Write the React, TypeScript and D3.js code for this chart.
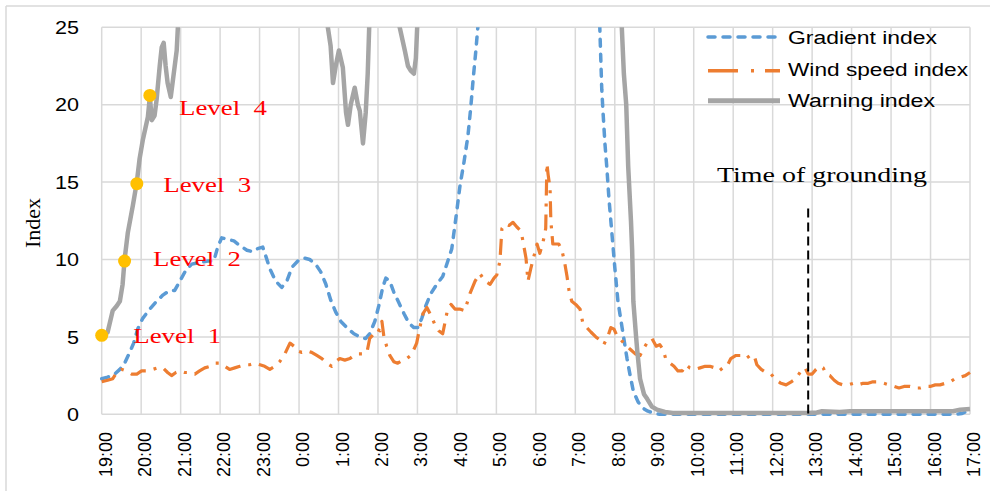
import React from "react";
import * as d3 from "d3";

// time axis: hours after 19:00
const hourLabels = ["19:00","20:00","21:00","22:00","23:00","0:00","1:00","2:00","3:00","4:00","5:00","6:00","7:00","8:00","9:00","10:00","11:00","12:00","13:00","14:00","15:00","16:00","17:00"];
const yTicks = [0, 5, 10, 15, 20, 25];

// Gradient index [hours after 19:00, value]
const gradientIndex: [number, number][] = [
  [0,2.3],[0.15,2.4],[0.33,2.6],[0.46,2.9],[0.58,3.3],[0.71,4.0],[0.81,4.6],[0.91,5.5],[1.04,6.2],[1.22,6.8],
  [1.39,7.3],[1.55,7.7],[1.72,8.0],[1.85,8.0],[1.98,8.6],[2.13,9.3],[2.28,9.7],[2.48,9.8],[2.69,9.9],[2.84,9.9],
  [2.94,10.8],[3.04,11.4],[3.19,11.3],[3.35,11.2],[3.5,10.9],[3.68,10.6],[3.83,10.5],[3.95,10.7],[4.08,10.8],[4.16,10.2],
  [4.26,9.4],[4.41,8.6],[4.56,8.2],[4.69,8.6],[4.82,9.5],[4.97,9.9],[5.12,10.1],[5.27,10.0],[5.42,9.7],[5.55,9.2],
  [5.68,8.4],[5.8,7.4],[5.93,6.6],[6.06,6.0],[6.21,5.6],[6.39,5.2],[6.54,5.0],[6.69,4.9],[6.79,5.2],[6.92,6.0],
  [7.02,7.0],[7.12,8.2],[7.2,8.8],[7.3,8.6],[7.4,7.9],[7.53,7.2],[7.66,6.5],[7.78,5.9],[7.91,5.6],[8.01,5.6],
  [8.11,6.2],[8.21,7.0],[8.34,7.8],[8.49,8.4],[8.64,8.9],[8.77,9.9],[8.87,10.7],[8.97,12.6],[9.08,14.8],[9.18,16.3],
  [9.28,18.0],[9.35,19.8],[9.41,21.6],[9.48,23.5],[9.53,25.0],[9.63,30],[9.84,45],[12.42,45],[12.57,30],[12.62,25],
  [12.67,21],[12.7,19.6],[12.75,17.5],[12.8,15.9],[12.85,14],[12.9,12.5],[12.95,11],[13.0,9.5],[13.08,7.3],[13.16,6.0],
  [13.21,5.2],[13.31,3.6],[13.39,2.5],[13.47,1.5],[13.59,0.8],[13.71,0.4],[13.84,0.2],[14.02,0.05],[14.14,0],[16,0],
  [18,0],[20,0],[21.62,0],[21.8,0.05],[22,0.3]
];

// Wind speed index
const windSpeedIndex: [number, number][] = [
  [0,2.1],[0.15,2.2],[0.28,2.3],[0.41,2.8],[0.51,2.9],[0.63,2.8],[0.76,2.6],[0.89,2.6],[1.01,2.8],[1.14,2.8],
  [1.29,2.9],[1.42,3.0],[1.55,3.0],[1.67,2.7],[1.77,2.5],[1.88,2.7],[1.98,2.8],[2.1,2.7],[2.23,2.7],[2.36,2.6],
  [2.48,2.8],[2.61,3.0],[2.74,3.1],[2.86,3.3],[2.99,3.3],[3.12,3.1],[3.24,2.9],[3.37,3.0],[3.5,3.1],[3.62,3.2],
  [3.75,3.2],[3.88,3.3],[4.01,3.2],[4.13,3.1],[4.26,2.9],[4.39,3.1],[4.51,3.4],[4.64,3.9],[4.77,4.6],[4.87,4.4],
  [4.94,4.1],[5.07,4.0],[5.2,4.1],[5.32,4.0],[5.45,3.8],[5.58,3.6],[5.7,3.3],[5.83,3.1],[5.93,3.4],[6.03,3.6],
  [6.16,3.5],[6.29,3.6],[6.39,3.8],[6.49,3.9],[6.62,3.9],[6.72,4.0],[6.79,4.9],[6.9,5.2],[6.97,5.5],[7.05,5.4],
  [7.1,6.0],[7.15,5.0],[7.22,4.4],[7.3,3.8],[7.4,3.4],[7.5,3.3],[7.63,3.5],[7.73,3.6],[7.83,3.8],[7.91,4.2],
  [7.98,4.6],[8.06,5.6],[8.14,6.5],[8.24,6.9],[8.34,6.4],[8.44,5.8],[8.54,5.4],[8.64,5.2],[8.75,6.6],[8.85,7.1],
  [8.95,6.8],[9.07,6.8],[9.2,6.7],[9.33,7.8],[9.46,8.6],[9.58,9.1],[9.71,8.6],[9.84,8.4],[9.94,8.8],[10.01,9.0],
  [10.09,9.9],[10.14,12.0],[10.22,12.3],[10.32,12.2],[10.42,12.4],[10.52,12.1],[10.6,11.9],[10.65,11.5],[10.7,10.8],[10.75,10.1],
  [10.8,8.6],[10.87,9.4],[10.95,10.2],[11.03,11.0],[11.1,10.4],[11.18,11.1],[11.25,12.0],[11.28,16.2],[11.31,15.5],[11.36,14.6],
  [11.38,12.5],[11.43,11.0],[11.51,11.0],[11.58,11.0],[11.66,10.6],[11.73,9.8],[11.79,8.9],[11.84,8.0],[11.91,7.3],[12.01,7.1],
  [12.12,6.8],[12.19,5.9],[12.29,5.6],[12.4,5.3],[12.52,5.0],[12.62,4.8],[12.72,4.5],[12.82,5.0],[12.9,5.6],[12.98,5.5],
  [13.05,5.1],[13.16,4.8],[13.26,4.5],[13.39,4.2],[13.52,3.9],[13.64,3.8],[13.74,4.3],[13.84,4.7],[13.94,4.9],[14.05,4.4],
  [14.14,4.5],[14.22,4.2],[14.29,3.6],[14.4,3.3],[14.5,3.1],[14.6,2.8],[14.71,2.8],[14.81,3.2],[14.9,3.0],[15.03,2.9],
  [15.16,3.0],[15.29,3.1],[15.41,3.1],[15.54,3.0],[15.64,2.8],[15.74,3.0],[15.84,3.1],[15.94,3.6],[16.07,3.8],[16.2,3.8],
  [16.32,3.6],[16.43,3.8],[16.53,3.8],[16.6,3.2],[16.71,2.9],[16.83,2.7],[16.96,2.6],[17.09,2.2],[17.21,2.0],[17.34,1.9],
  [17.47,2.1],[17.59,2.3],[17.72,2.8],[17.82,3.0],[17.9,2.6],[18.0,2.6],[18.1,2.9],[18.19,3.1],[18.28,3.0],[18.35,2.6],
  [18.45,2.5],[18.56,2.2],[18.66,2.0],[18.78,1.9],[18.91,1.9],[19.04,2.0],[19.16,1.9],[19.29,2.0],[19.42,2.0],[19.54,2.1],
  [19.67,2.1],[19.82,2.0],[19.95,1.9],[20.08,1.8],[20.2,1.7],[20.33,1.8],[20.48,1.8],[20.61,1.7],[20.74,1.7],[20.86,1.8],
  [20.99,1.8],[21.12,1.9],[21.24,1.9],[21.37,2.0],[21.5,2.1],[21.62,2.3],[21.75,2.4],[21.88,2.5],[22.0,2.7]
];

// Warning index
const warningIndex: [number, number][] = [
  [0,5.0],[0.15,5.3],[0.28,6.7],[0.38,7.0],[0.46,7.3],[0.53,8.4],[0.58,10.0],[0.66,11.7],[0.79,13.5],[0.89,15.0],
  [0.96,16.5],[1.04,17.7],[1.17,19.2],[1.22,20.5],[1.27,19.0],[1.34,19.3],[1.39,20.3],[1.47,22.5],[1.52,23.7],[1.57,24.0],
  [1.62,22.5],[1.67,21.4],[1.75,20.5],[1.8,21.5],[1.9,23.5],[1.95,26],[2.05,40],[5.58,40],[5.7,25.5],[5.8,23.8],
  [5.86,21.4],[5.93,22.5],[6.01,23.5],[6.11,22.4],[6.19,19.5],[6.24,18.7],[6.31,20.0],[6.41,21.1],[6.49,20.0],[6.54,19.6],
  [6.62,17.5],[6.69,19.5],[6.74,22],[6.79,26],[6.87,40],[7.4,40],[7.48,26],[7.55,25],[7.68,23.5],[7.76,22.5],
  [7.83,22.2],[7.91,22.0],[7.96,23],[8.01,26],[8.09,40],[13.03,40],[13.16,26],[13.23,22],[13.29,20],[13.34,16],
  [13.41,12.5],[13.44,10.6],[13.47,7.3],[13.54,5],[13.57,4.1],[13.64,2.3],[13.74,1.3],[13.82,1.0],[13.94,0.5],[14.07,0.3],
  [14.27,0.15],[14.47,0.08],[16,0.08],[17.9,0.08],[18.12,0.12],[18.25,0.2],[18.7,0.15],[18.96,0.2],[20,0.2],[21.57,0.2],
  [21.75,0.3],[22.0,0.35]
];

// warning level markers
const levelNames = ["Level  1", "Level  2", "Level  3", "Level  4"];
const levelT = [0, 0.58, 0.89, 1.22];
const levelV = [5.1, 9.9, 14.9, 20.6];
const levelLabelT = [0.8, 1.3, 1.56, 1.96];
const levelLabelV = [4.6, 9.6, 14.35, 19.35];

const groundingT = 17.9;
const groundingTop = 13.3;
const groundingLabel = "Time of grounding";

const seriesNames = ["Gradient index", "Wind speed index", "Warning index"];

export default function App() {
  const W = 990, H = 491;
  const x = d3.scaleLinear().domain([0, 22]).range([101.7, 970]);
  const y = d3.scaleLinear().domain([0, 25]).range([414.3, 27.3]);
  const line = d3.line<[number, number]>().x(d => x(d[0])).y(d => y(d[1]));
  const grid = "#D9D9D9";
  const blue = "#5B9BD5", orange = "#ED7D31", gray = "#A5A5A5";
  const sans = "'Liberation Sans', Arial, sans-serif";
  const serif = "'Liberation Serif', 'Times New Roman', serif";

  const legendStyles = [
    { stroke: blue, width: 3.5, dash: "7,8", cap: "round" as const },
    { stroke: orange, width: 3.5, dash: "30,13,3,11", cap: "butt" as const },
    { stroke: gray, width: 5, dash: undefined, cap: "butt" as const },
  ];
  const legendLineY = [37, 70.7, 100.7];
  const legendBase = [44, 76, 107];
  const legendLen = [149, 180, 147];

  return (
    <svg width={W} height={H} style={{ position: "absolute", left: 0, top: 0, background: "#fff" }}>
      <defs>
        <clipPath id="plotClip">
          <rect x={x(0) - 2} y={y(25)} width={x(22) - x(0) + 6} height={y(0) - y(25) + 6} />
        </clipPath>
      </defs>
      {/* outer border */}
      <line x1={6} y1={6} x2={W} y2={6} stroke={grid} strokeWidth={1.5} />
      <line x1={6} y1={6} x2={6} y2={H} stroke={grid} strokeWidth={1.5} />

      {/* gridlines */}
      {yTicks.map(v => (
        <line key={"h" + v} x1={x(0)} x2={x(22)} y1={y(v)} y2={y(v)} stroke={grid} strokeWidth={1.5} />
      ))}
      {hourLabels.map((_, i) => (
        <line key={"v" + i} x1={x(i)} x2={x(i)} y1={y(25)} y2={y(0)} stroke={grid} strokeWidth={1.5} />
      ))}

      {/* y tick labels */}
      {yTicks.map(v => (
        <text key={"yl" + v} x={79} y={y(v) + 6.7} textAnchor="end" fontFamily={sans} fontSize={18}
          textLength={v >= 10 ? 24 : 12} lengthAdjust="spacingAndGlyphs" fill="#000">{v}</text>
      ))}
      {/* x tick labels */}
      {hourLabels.map((lab, i) => (
        <text key={"xl" + i} transform={`translate(${x(i) + 10},432) rotate(-90)`} textAnchor="end"
          fontFamily={sans} fontSize={18} fill="#000">{lab}</text>
      ))}
      {/* y axis title */}
      <text transform={`translate(40,223) rotate(-90)`} textAnchor="middle" fontFamily={serif} fontSize={22} fill="#000">Index</text>

      {/* series */}
      <g clipPath="url(#plotClip)">
        <path d={line(gradientIndex) || ""} fill="none" stroke={blue} strokeWidth={3.5} strokeDasharray="7,8" strokeLinecap="round" strokeLinejoin="round" />
        <path d={line(windSpeedIndex) || ""} fill="none" stroke={orange} strokeWidth={3.2} strokeDasharray="16,8,3,8" strokeLinejoin="round" />
        <path d={line(warningIndex) || ""} fill="none" stroke={gray} strokeWidth={4.5} strokeLinejoin="round" />
      </g>

      {/* level points and labels */}
      {levelT.map((t, i) => (
        <g key={"lv" + i}>
          <circle cx={x(t)} cy={y(levelV[i])} r={6.5} fill="#FFC000" />
          <text x={x(levelLabelT[i])} y={y(levelLabelV[i])} fontFamily={serif} fontSize={22} fill="#FF0000"
            textLength={88} lengthAdjust="spacingAndGlyphs" style={{ whiteSpace: "pre" }}>{levelNames[i]}</text>
        </g>
      ))}

      {/* grounding marker */}
      <line x1={x(groundingT)} x2={x(groundingT)} y1={y(groundingTop)} y2={y(0)} stroke="#000" strokeWidth={2} strokeDasharray="9,5" />
      <text x={x(18.25)} y={y(15.0)} textAnchor="middle" fontFamily={serif} fontSize={22} fill="#000"
        textLength={210} lengthAdjust="spacingAndGlyphs">{groundingLabel}</text>

      {/* legend */}
      {seriesNames.map((name, i) => (
        <g key={"lg" + i}>
          <line x1={708} x2={780} y1={legendLineY[i]} y2={legendLineY[i]} stroke={legendStyles[i].stroke}
            strokeWidth={legendStyles[i].width} strokeDasharray={legendStyles[i].dash} strokeLinecap={legendStyles[i].cap} />
          <text x={788} y={legendBase[i]} fontFamily={sans} fontSize={18} fill="#000"
            textLength={legendLen[i]} lengthAdjust="spacingAndGlyphs">{name}</text>
        </g>
      ))}
    </svg>
  );
}
